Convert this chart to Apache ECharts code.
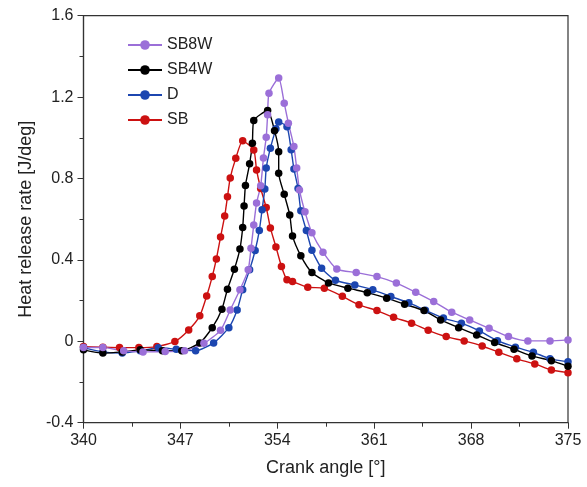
<!DOCTYPE html>
<html>
<head>
<meta charset="utf-8">
<script src="https://cdn.jsdelivr.net/npm/echarts@6/dist/echarts.min.js"></script>
<style>
	html, body { margin: 0; padding: 0; background: #fff; }
	#chart { width: 587px; height: 487px; }
</style>
</head>
<body>
<div id="chart"></div>
<script>
// crank angle / heat release rate pairs
var sb = [
	[340.0, -0.026], [341.4, -0.029], [342.6, -0.031], [344.0, -0.031], [345.3, -0.026],
	[346.6, -0.001], [347.6, 0.056], [348.4, 0.125], [348.9, 0.223], [349.3, 0.318],
	[349.6, 0.405], [349.9, 0.512], [350.2, 0.616], [350.4, 0.71], [350.6, 0.803],
	[351.0, 0.899], [351.5, 0.985], [352.3, 0.94], [352.5, 0.842], [352.8, 0.751],
	[353.2, 0.658], [353.5, 0.557], [353.9, 0.464], [354.3, 0.368], [354.7, 0.302],
	[355.1, 0.294], [356.2, 0.266], [357.4, 0.261], [358.7, 0.221], [359.9, 0.179],
	[361.2, 0.151], [362.4, 0.118], [363.7, 0.089], [364.9, 0.054], [366.2, 0.023],
	[367.5, 0.002], [368.8, -0.023], [370.0, -0.054], [371.3, -0.086], [372.6, -0.111],
	[373.8, -0.141], [375.0, -0.154]
];
var sb4w = [
	[340.0, -0.042], [341.4, -0.058], [342.8, -0.052], [344.1, -0.042], [345.7, -0.046],
	[347.1, -0.046], [348.4, -0.008], [349.3, 0.067], [350.0, 0.158], [350.4, 0.256],
	[350.9, 0.354], [351.3, 0.454], [351.5, 0.559], [351.6, 0.665], [351.7, 0.766],
	[352.0, 0.872], [352.2, 0.973], [352.3, 1.085], [353.3, 1.134], [353.8, 1.035],
	[354.1, 0.932], [354.1, 0.826], [354.5, 0.722], [354.9, 0.621], [355.1, 0.518],
	[355.7, 0.420], [356.5, 0.338], [357.7, 0.287], [359.1, 0.261], [360.5, 0.239],
	[361.9, 0.212], [363.2, 0.182], [364.6, 0.151], [365.8, 0.105], [367.1, 0.067],
	[368.4, 0.031], [369.7, -0.006], [371.1, -0.039], [372.4, -0.072], [373.8, -0.095],
	[375.0, -0.123]
];
var d = [
	[340.0, -0.031], [341.4, -0.052], [342.8, -0.058], [344.1, -0.047], [345.4, -0.032],
	[346.7, -0.039], [348.1, -0.047], [349.4, -0.008], [350.5, 0.067], [351.1, 0.154],
	[351.5, 0.253], [352.0, 0.351], [352.4, 0.446], [352.7, 0.544], [352.9, 0.646],
	[353.1, 0.749], [353.2, 0.851], [353.5, 0.949], [353.9, 1.044], [354.1, 1.078],
	[354.7, 1.054], [355.0, 0.941], [355.2, 0.847], [355.5, 0.751], [355.7, 0.641],
	[356.1, 0.544], [356.5, 0.448], [357.2, 0.359], [358.2, 0.300], [359.6, 0.277],
	[360.9, 0.253], [362.2, 0.220], [363.5, 0.190], [364.7, 0.152], [366.0, 0.114],
	[367.3, 0.089], [368.6, 0.051], [369.9, 0.003], [371.2, -0.029], [372.5, -0.054],
	[373.7, -0.086], [375.0, -0.100]
];
var sb8w = [
	[340.0, -0.031], [341.4, -0.030], [342.9, -0.047], [344.3, -0.052], [345.9, -0.050],
	[347.3, -0.047], [348.7, -0.010], [349.9, 0.054], [350.6, 0.154], [351.3, 0.253],
	[351.9, 0.351], [352.1, 0.457], [352.3, 0.572], [352.5, 0.679], [352.8, 0.764],
	[353.0, 0.901], [353.2, 1.003], [353.3, 1.113], [353.4, 1.219], [354.1, 1.294],
	[354.5, 1.170], [354.8, 1.072], [355.2, 0.957], [355.4, 0.851], [355.6, 0.744],
	[356.0, 0.636], [356.5, 0.533], [357.3, 0.438], [358.3, 0.355], [359.7, 0.338],
	[361.2, 0.318], [362.6, 0.286], [364.0, 0.241], [365.3, 0.195], [366.6, 0.143],
	[367.9, 0.105], [369.3, 0.064], [370.7, 0.023], [372.1, 0.002], [373.7, 0.002],
	[375.0, 0.007]
];
var xTicks = [340, 347, 354, 361, 368, 375];
var xMinorTicks = [343.5, 350.5, 357.5, 364.5, 371.5];
var legendNames = ['SB8W', 'SB4W', 'D', 'SB'];

var font = 'Liberation Sans, Arial, sans-serif';

function makeSeries(name, data, color) {
	return {
		name: name,
		type: 'line',
		data: data,
		smooth: 0.2,
		symbol: 'circle',
		symbolSize: 7.5,
		showAllSymbol: true,
		lineStyle: { color: color, width: 1.4 },
		itemStyle: { color: color },
		emphasis: { disabled: true },
		animation: false
	};
}

var chart = echarts.init(document.getElementById('chart'));
chart.setOption({
	animation: false,
	grid: {
		left: 83.5, right: 19, top: 15.7, bottom: 64.3,
		show: true, borderColor: '#333', borderWidth: 1.2
	},
	legend: {
		data: legendNames,
		orient: 'vertical',
		left: 122,
		top: 32,
		itemWidth: 34,
		itemHeight: 12,
		itemGap: 9,
		textStyle: { fontFamily: font, fontSize: 16, color: '#222' }
	},
	xAxis: [{
		type: 'value',
		min: 340,
		max: 375,
		name: 'Crank angle [°]',
		nameLocation: 'middle',
		nameGap: 36,
		nameTextStyle: { fontFamily: font, fontSize: 18, color: '#222' },
		axisLine: { show: true, onZero: false, lineStyle: { color: '#333', width: 1.2 } },
		axisTick: { show: true, length: 6, customValues: xTicks, lineStyle: { color: '#333' } },
		axisLabel: { customValues: xTicks, fontFamily: font, fontSize: 16, color: '#222', margin: 10 },
		splitLine: { show: false }
	}, {
		type: 'value',
		position: 'bottom',
		min: 340,
		max: 375,
		axisLine: { show: false, onZero: false },
		axisTick: { show: true, length: 4, customValues: xMinorTicks, lineStyle: { color: '#333' } },
		axisLabel: { show: false },
		splitLine: { show: false }
	}],
	yAxis: {
		type: 'value',
		min: -0.4,
		max: 1.6,
		interval: 0.4,
		name: 'Heat release rate [J/deg]',
		nameLocation: 'middle',
		nameGap: 48,
		nameTextStyle: { fontFamily: font, fontSize: 18, color: '#222' },
		axisLine: { show: true, onZero: false, lineStyle: { color: '#333', width: 1.2 } },
		axisTick: { show: true, length: 6, lineStyle: { color: '#333' } },
		minorTick: { show: true, splitNumber: 2, length: 4, lineStyle: { color: '#333' } },
		axisLabel: { fontFamily: font, fontSize: 16, color: '#222', margin: 10 },
		splitLine: { show: false }
	},
	series: [
		makeSeries('SB', sb, '#cc1111'),
		makeSeries('D', d, '#1c46b0'),
		makeSeries('SB4W', sb4w, '#000000'),
		makeSeries('SB8W', sb8w, '#9b6fd8')
	]
});
</script>
</body>
</html>
